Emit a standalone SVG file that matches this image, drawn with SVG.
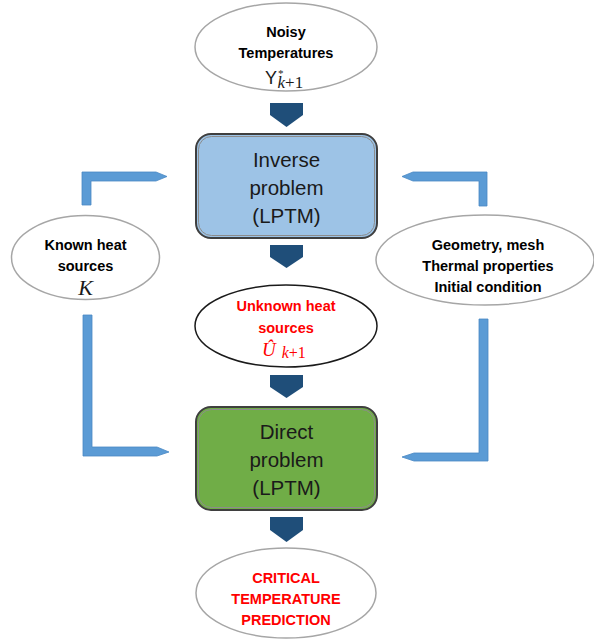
<svg xmlns="http://www.w3.org/2000/svg" width="594" height="639" viewBox="0 0 594 639">
<style>
.ell{fill:#fff;stroke:#a6a6a6;stroke-width:1.5}
.lbl{font-family:"Liberation Sans",Arial,sans-serif;font-weight:bold;font-size:14.5px;text-anchor:middle;fill:#000}
.red{fill:#ff0000}
.big{font-family:"Liberation Sans",Arial,sans-serif;font-size:20.5px;text-anchor:middle;fill:#1a1a1a}
.math{font-family:"Liberation Serif","Times New Roman",serif;font-style:italic}
.up{font-style:normal}
.box{stroke:#3f3f3f;stroke-width:2}
.boxin{fill:none;stroke:#8c8c8c;stroke-width:1}
.down{fill:#1f4e79}
.el{fill:#5b9bd5;stroke:#4a89c4;stroke-width:0.8}
</style>
<g id="connectors">
<polygon class="down" points="270,103 303,103 303,115 286.5,127 270,115"/>
<polygon class="down" points="270,245 303,245 303,257 286.5,268 270,257"/>
<polygon class="down" points="270,375 303,375 303,387 286.5,398 270,387"/>
<polygon class="down" points="270,517 303,517 303,530 286.5,542 270,530"/>
<polygon class="el" points="82,205 82,172 156,172 167,176.5 156,181 91,181 91,205"/>
<polygon class="el" points="487,206 487,172 413,172 402,176.5 413,181 479,181 479,206"/>
<polygon class="el" points="83,315 92,315 92,447 157,447 169,452 157,456 83,456"/>
<polygon class="el" points="488,319 479,319 479,453 414,453 402,457 414,461 488,461"/>
</g>
<g id="noisy">
<ellipse class="ell" cx="286" cy="47" rx="91" ry="44"/>
<text class="lbl" x="286" y="37">Noisy</text>
<text class="lbl" x="286" y="58">Temperatures</text>
<text x="265" y="84" font-family="Liberation Sans,Arial,sans-serif" font-size="18" fill="#1a1a1a">Y<tspan font-family="Liberation Serif,serif" font-size="11" dx="1" dy="-7">*</tspan><tspan class="math" font-size="17" dx="-6" dy="11">k</tspan><tspan font-family="Liberation Serif,serif" font-size="17">+1</tspan></text>
</g>
<g id="inverse">
<rect class="box" x="196" y="134" width="181" height="104" rx="15" fill="#9dc3e6"/>
<rect class="boxin" x="198.5" y="136.5" width="176" height="99" rx="13"/>
<text class="big" x="286.5" y="167">Inverse</text>
<text class="big" x="286.5" y="195">problem</text>
<text class="big" x="286.5" y="223">(LPTM)</text>
</g>
<g id="known">
<ellipse class="ell" cx="85.5" cy="257.5" rx="74" ry="42"/>
<text class="lbl" x="85.5" y="250">Known heat</text>
<text class="lbl" x="85.5" y="271">sources</text>
<text x="85.5" y="295" class="math" font-size="22" text-anchor="middle" fill="#1a1a1a">K</text>
</g>
<g id="geometry">
<ellipse class="ell" cx="485" cy="260" rx="109" ry="45"/>
<text class="lbl" x="488" y="250">Geometry, mesh</text>
<text class="lbl" x="488" y="271">Thermal properties</text>
<text class="lbl" x="488" y="292">Initial condition</text>
</g>
<g id="unknown">
<ellipse cx="286" cy="326" rx="91" ry="41" fill="#fff" stroke="#1a1a1a" stroke-width="1.5"/>
<text class="lbl red" x="286" y="311">Unknown heat</text>
<text class="lbl red" x="286" y="333">sources</text>
<text x="262" y="356" class="math" font-size="19" fill="#ff0000">Û<tspan font-size="16" dx="6" dy="2">k</tspan><tspan class="up" font-size="16">+1</tspan></text>
</g>
<g id="direct">
<rect class="box" x="196" y="407" width="181" height="103" rx="15" fill="#70ad47"/>
<rect class="boxin" x="198.5" y="409.5" width="176" height="98" rx="13"/>
<text class="big" x="286.5" y="439">Direct</text>
<text class="big" x="286.5" y="467">problem</text>
<text class="big" x="286.5" y="495">(LPTM)</text>
</g>
<g id="critical">
<ellipse class="ell" cx="286" cy="593" rx="90" ry="45"/>
<text class="lbl red" x="286" y="583">CRITICAL</text>
<text class="lbl red" x="286" y="604">TEMPERATURE</text>
<text class="lbl red" x="286" y="625">PREDICTION</text>
</g>
</svg>
